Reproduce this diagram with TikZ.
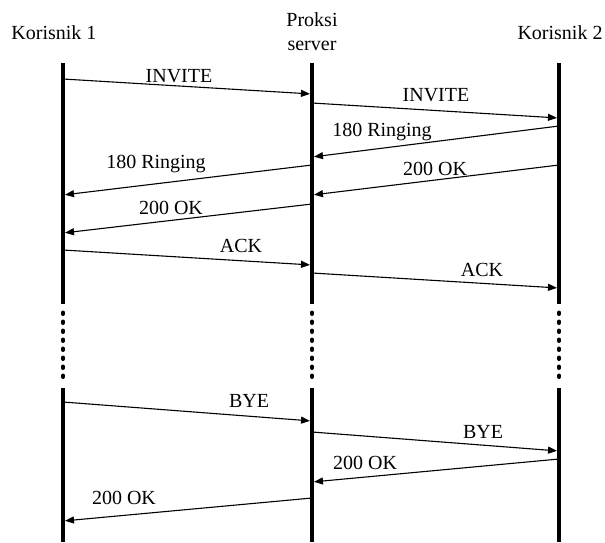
\documentclass[tikz,border=0pt]{standalone}
\usepackage{fontspec}
\setmainfont{Liberation Serif}
\usetikzlibrary{arrows.meta}

\begin{document}
\begin{tikzpicture}[
  x=1pt,
  y=-1pt,
  >={Triangle[length=9pt,width=7pt]},
  every node/.style={font=\fontsize{20}{24}\selectfont, inner sep=0pt},
  head/.style={anchor=base, align=center},
  lifeline/.style={line width=4pt},
  gap/.style={line width=4pt, line cap=round, dash pattern=on 1.5pt off 7.5pt},
  msg/.style={->, line width=1.1pt, shorten >=2pt},
  lbl/.style={anchor=base},
]
  \useasboundingbox (0,0) rectangle (605,542);
  \def\xA{63}
  \def\xP{312}
  \def\xB{559}

  % participants
  \node[head] (k1) at (54,39.3) {Korisnik 1};
  \node[head] (ps) at (312,50.7) {Proksi\\server};
  \node[head] (k2) at (560,39.3) {Korisnik 2};

  % lifelines, broken by a dotted stretch
  \foreach \x in {\xA,\xP,\xB} {
    \draw[lifeline] (\x,63) -- (\x,304);
    \draw[gap] (\x,312.5) -- (\x,378);
    \draw[lifeline] (\x,388) -- (\x,542);
  }

  % session setup
  \coordinate (inv1s) at (\xA,79);  \coordinate (inv1e) at (\xP,94);
  \draw[msg] (inv1s) -- (inv1e);
  \node[lbl] (inv1) at (179,82.7) {INVITE};

  \coordinate (inv2s) at (\xP,103); \coordinate (inv2e) at (\xB,118);
  \draw[msg] (inv2s) -- (inv2e);
  \node[lbl] (inv2) at (436,101.7) {INVITE};

  \coordinate (rng2s) at (\xB,126); \coordinate (rng2e) at (\xP,157);
  \draw[msg] (rng2s) -- (rng2e);
  \node[lbl] (rng2) at (382,136.7) {180 Ringing};

  \coordinate (rng1s) at (\xP,165); \coordinate (rng1e) at (\xA,195);
  \draw[msg] (rng1s) -- (rng1e);
  \node[lbl] (rng1) at (156,168) {180 Ringing};

  \coordinate (ok2s) at (\xB,165);  \coordinate (ok2e) at (\xP,195);
  \draw[msg] (ok2s) -- (ok2e);
  \node[lbl] (ok2) at (435,175) {200 OK};

  \coordinate (ok1s) at (\xP,204);  \coordinate (ok1e) at (\xA,233);
  \draw[msg] (ok1s) -- (ok1e);
  \node[lbl] (ok1) at (171,214) {200 OK};

  \coordinate (ack1s) at (\xA,250); \coordinate (ack1e) at (\xP,265);
  \draw[msg] (ack1s) -- (ack1e);
  \node[lbl] (ack1) at (241,252.7) {ACK};

  \coordinate (ack2s) at (\xP,273); \coordinate (ack2e) at (\xB,288);
  \draw[msg] (ack2s) -- (ack2e);
  \node[lbl] (ack2) at (482,276.7) {ACK};

  % teardown
  \coordinate (bye1s) at (\xA,402); \coordinate (bye1e) at (\xP,421);
  \draw[msg] (bye1s) -- (bye1e);
  \node[lbl] (bye1) at (249,407.5) {BYE};

  \coordinate (bye2s) at (\xP,432); \coordinate (bye2e) at (\xB,451);
  \draw[msg] (bye2s) -- (bye2e);
  \node[lbl] (bye2) at (483,438.3) {BYE};

  \coordinate (fin2s) at (\xB,459); \coordinate (fin2e) at (\xP,482);
  \draw[msg] (fin2s) -- (fin2e);
  \node[lbl] (fin2) at (365,469.3) {200 OK};

  \coordinate (fin1s) at (\xP,498); \coordinate (fin1e) at (\xA,521);
  \draw[msg] (fin1s) -- (fin1e);
  \node[lbl] (fin1) at (124,504.3) {200 OK};
\end{tikzpicture}
\end{document}
